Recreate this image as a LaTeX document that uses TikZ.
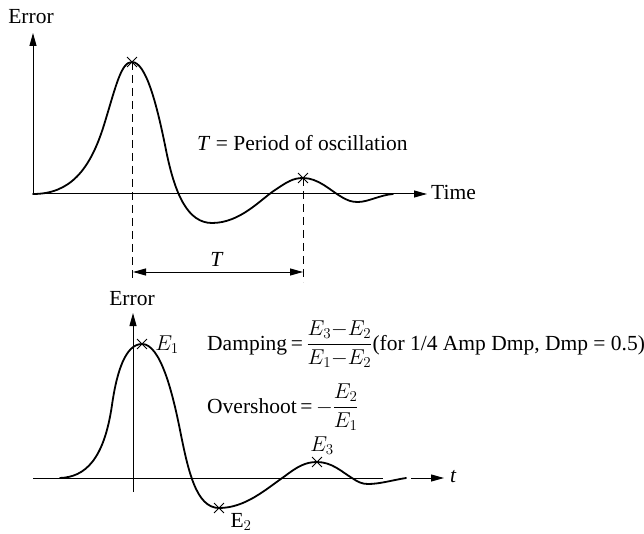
\documentclass[tikz,border=0pt]{standalone}
\usepackage{fix-cm}
\usepackage{amsmath}
\usepackage{fontspec}
\setmainfont{Liberation Serif}
\usetikzlibrary{arrows.meta,shapes.misc}
\begin{document}
\begin{tikzpicture}[x=1pt,y=-1pt,
  lbl/.style={font=\fontsize{21.5}{26}\selectfont, inner sep=0pt},
  axis/.style={line width=1pt},
  arr/.style={-{Triangle[length=13pt,width=7pt]}},
  darr/.style={{Triangle[length=13pt,width=7pt]}-{Triangle[length=13pt,width=7pt]}},
  curve/.style={line width=1.8pt, line join=round, line cap=round},
  guide/.style={line width=0.9pt, dash pattern=on 8pt off 5pt},
  mk/.style={cross out, draw, line width=0.9pt, minimum size=9pt, inner sep=0pt}]
\useasboundingbox (0,0) rectangle (644,534);

% ---------- top plot ----------
\coordinate (o1) at (33,194);
\coordinate (y1) at (33,33);
\coordinate (x1) at (427,194);
\node[lbl] (err1) at (31,17) {Error};
\node[lbl, anchor=west] (time) at (431,192) {Time};
\draw[axis,arr] (o1) -- (y1);
\draw[axis,arr] (o1) -- (x1);

\draw[curve] (33,194) .. controls (70,194) and (90,170) .. (104,125)
  .. controls (116,86) and (121,62) .. (132,62)
  .. controls (146,62) and (157,105) .. (166,150)
  .. controls (175,195) and (188,223) .. (212,223)
  .. controls (240,223) and (260,200) .. (275,190)
  .. controls (287,182) and (293,178) .. (303,178)
  .. controls (318,178) and (330,190) .. (340,196)
  .. controls (348,201) and (352,202) .. (358,202)
  .. controls (368,202) and (380,195) .. (393,194);

\node[mk] (p1) at (132,62) {};
\node[mk] (p2) at (303,178) {};
\coordinate (d1) at (132,281);
\coordinate (d2) at (303,282);
\draw[guide] (p1.center) -- (d1);
\draw[guide] (p2.center) -- (d2);

\coordinate (ta) at (133,272);
\coordinate (tb) at (303,272);
\draw[axis,darr] (ta) -- (tb);
\node[lbl] (tlab) at (217,259) {\textit{T}};
\node[lbl, anchor=west] (period) at (197,143) {\textit{T} = Period of oscillation};

% ---------- bottom plot ----------
\coordinate (o2) at (133,492);
\coordinate (y2) at (133,313);
\coordinate (a2) at (33,478);
\coordinate (b2) at (383,478);
\coordinate (c2) at (411,478);
\coordinate (e2) at (444,478);
\node[lbl] (err2) at (132,299) {Error};
\draw[axis,arr] (o2) -- (y2);
\draw[axis] (a2) -- (b2);
\draw[axis,arr] (c2) -- (e2);
\node[lbl, anchor=west] (tt) at (450,477) {\textit{t}};

\draw[curve] (60,478) .. controls (85,477) and (104,460) .. (112,405)
  .. controls (117,370) and (126,344) .. (142,344)
  .. controls (160,344) and (172,390) .. (180,430)
  .. controls (188,470) and (196,508) .. (219,508)
  .. controls (245,508) and (265,490) .. (285,476)
  .. controls (297,467) and (305,462) .. (317,462)
  .. controls (332,462) and (342,472) .. (352,478)
  .. controls (358,482) and (362,484) .. (368,484)
  .. controls (380,484) and (393,480) .. (406,478);

\node[mk] (q1) at (142,344) {};
\node[mk] (q2) at (219,508) {};
\node[mk] (q3) at (317,462) {};
\node[lbl] (le1) at (167,345) {$E_1$};
\node[lbl] (le2) at (241,522) {E$_2$};
\node[lbl] (le3) at (322,446) {$E_3$};

\node[lbl, anchor=base west] (damp) at (207,350)
  {Damping\,=\,$\dfrac{E_3{-}E_2}{E_1{-}E_2}$(for 1/4 Amp Dmp, Dmp = 0.5)};
\node[lbl, anchor=base west] (over) at (207,413)
  {Overshoot\,=\,$-\dfrac{E_2}{E_1}$};
\end{tikzpicture}
\end{document}
